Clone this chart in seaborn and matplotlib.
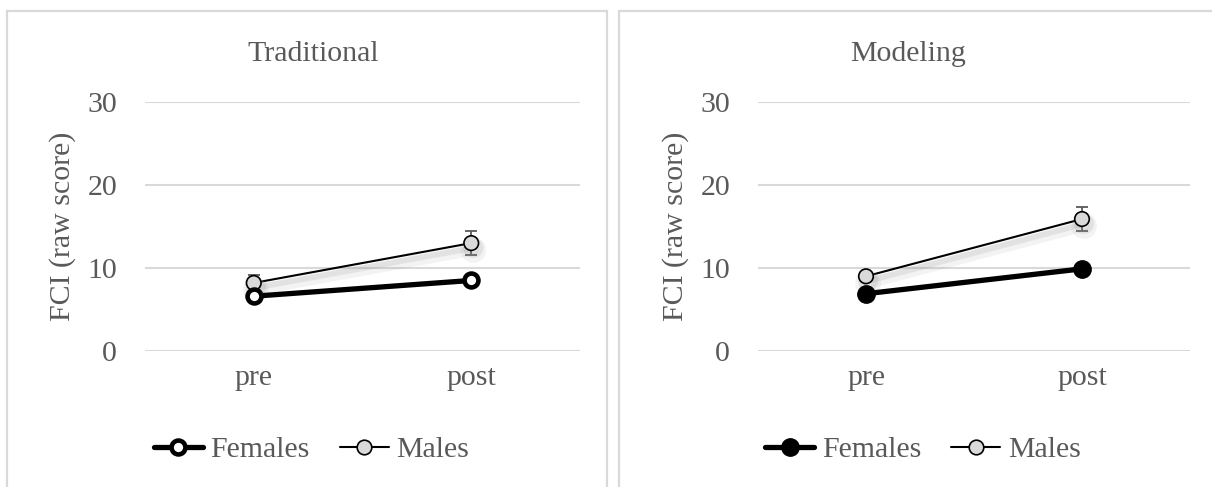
import matplotlib
matplotlib.use("Agg")
import matplotlib.pyplot as plt
import matplotlib.patheffects as pe
from matplotlib.patches import Rectangle
from matplotlib.lines import Line2D
import seaborn as sns

# Mean FCI raw scores (pre / post) with standard errors
times = ["pre", "post"]
panel_titles = ["Traditional", "Modeling"]
females_traditional = [6.6, 8.5]
males_traditional = [8.2, 13.0]
females_traditional_err = [0.3, 0.4]
males_traditional_err = [0.95, 1.4]
females_modeling = [6.9, 9.9]
males_modeling = [9.0, 15.9]
females_modeling_err = [0.4, 0.5]
males_modeling_err = [0.5, 1.5]
yticks = [0, 10, 20, 30]
ylabel = "FCI (raw score)"
series_labels = ["Females", "Males"]

sns.set_theme(style="white")
plt.rcParams["font.family"] = ["Liberation Serif", "DejaVu Serif"]
TEXT = "#595959"
GRID = "#d9d9d9"
FS = 21.5

W, H = 1212, 487
fig = plt.figure(figsize=(W / 100, H / 100), dpi=100)


def px_rect(x0, x1, ytop, ybot):
    return [x0 / W, 1 - ybot / H, (x1 - x0) / W, (ybot - ytop) / H]


axes = [
    fig.add_axes(px_rect(145, 580, 102, 351)),
    fig.add_axes(px_rect(758, 1190, 102, 351)),
]

data = [
    (females_traditional, females_traditional_err, males_traditional, males_traditional_err),
    (females_modeling, females_modeling_err, males_modeling, males_modeling_err),
]
female_fill = ["white", "black"]
female_msize = [10.0, 12.5]
female_mew = [3.3, 1.0]
male_msize = 10.5

for i, (ax, (f, fe, m, me)) in enumerate(zip(axes, data)):
    # error bars (behind markers)
    ax.errorbar(times, m, yerr=me, fmt="none", ecolor="#595959", elinewidth=1.3,
                capsize=4.5, capthick=1.3, zorder=2)
    ax.errorbar(times, f, yerr=fe, fmt="none", ecolor="#595959", elinewidth=1.3,
                capsize=4.5, capthick=1.3, zorder=2)

    sns.lineplot(x=times, y=m, ax=ax, sort=False, color="black", linewidth=1.5,
                 marker="o", markersize=male_msize, markerfacecolor="#d9d9d9",
                 markeredgecolor="black", markeredgewidth=1.2, zorder=3)
    ax.lines[-1].set_path_effects([
        pe.SimpleLineShadow(offset=(1.5, -5), shadow_color="0.55", alpha=0.10, linewidth=8),
        pe.SimpleLineShadow(offset=(1.5, -3.5), shadow_color="0.55", alpha=0.16, linewidth=4),
        pe.Normal(),
    ])
    sns.lineplot(x=times, y=f, ax=ax, sort=False, color="black", linewidth=3.8,
                 marker="o", markersize=female_msize[i], markerfacecolor=female_fill[i],
                 markeredgecolor="black", markeredgewidth=female_mew[i], zorder=4)

    ax.set_xlim(-0.5, 1.5)
    ax.set_ylim(0, 30)
    ax.set_yticks(yticks)
    ax.yaxis.grid(True, color=GRID, linewidth=1.5)
    ax.xaxis.grid(False)
    for s in ax.spines.values():
        s.set_visible(False)
    ax.tick_params(axis="both", length=0, labelsize=FS, labelcolor=TEXT)
    ax.tick_params(axis="y", pad=20)
    ax.tick_params(axis="x", pad=10)
    ax.set_xlabel("")
    ax.set_ylabel(ylabel, fontsize=FS, color=TEXT, labelpad=8)
    if ax.get_legend() is not None:
        ax.get_legend().remove()

# panel frames
fig.patches.append(Rectangle((7 / W, -0.1), 600 / W, 1.1 - 10.5 / H, transform=fig.transFigure,
                             fill=False, edgecolor=GRID, linewidth=1.6))
fig.patches.append(Rectangle((619 / W, -0.1), 700 / W, 1.1 - 10.5 / H, transform=fig.transFigure,
                             fill=False, edgecolor=GRID, linewidth=1.6))

# titles
title_x = [313, 908]
for t, x in zip(panel_titles, title_x):
    fig.text(x / W, 1 - 54 / H, t, ha="center", va="center", fontsize=FS, color=TEXT)

# legends
legend_x = [311.5, 923]
for i, x in enumerate(legend_x):
    handles = [
        Line2D([], [], color="black", linewidth=3.8, marker="o", markersize=female_msize[i],
               markerfacecolor=female_fill[i], markeredgecolor="black",
               markeredgewidth=female_mew[i]),
        Line2D([], [], color="black", linewidth=1.5, marker="o", markersize=male_msize,
               markerfacecolor="#d9d9d9", markeredgecolor="black", markeredgewidth=1.2),
    ]
    fig.legend(handles, series_labels, loc="center", bbox_to_anchor=(x / W, 1 - 450 / H),
               ncol=2, frameon=False, fontsize=FS, handlelength=1.65,
               handletextpad=0.25, columnspacing=1.0, labelcolor=TEXT)

fig.savefig("out.png", dpi=100)
